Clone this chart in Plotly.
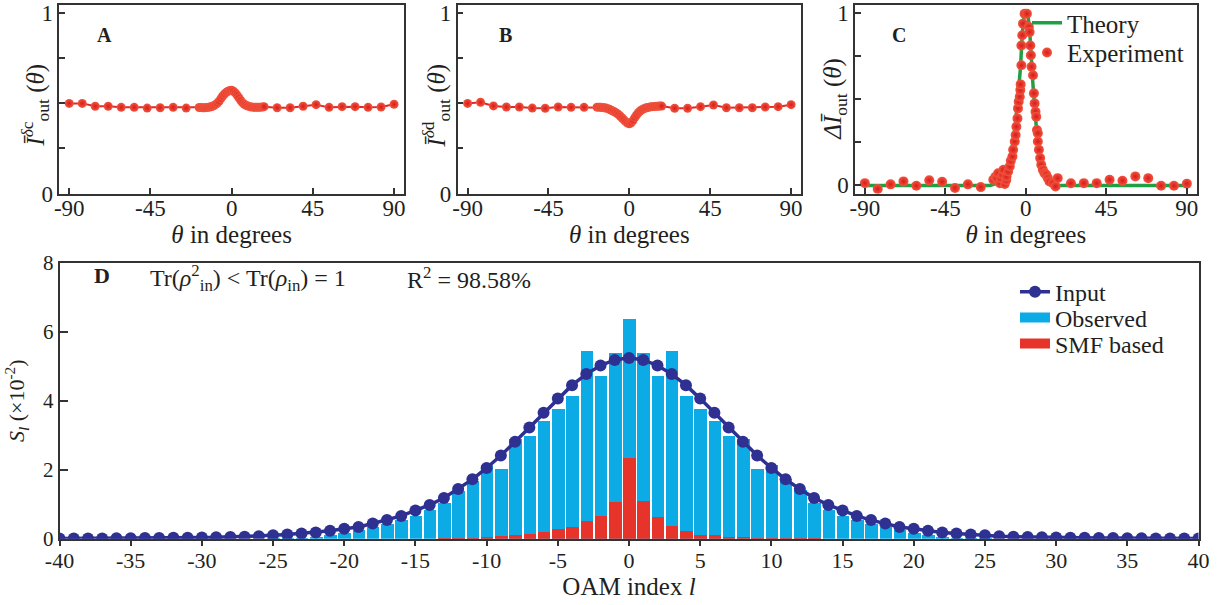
import plotly.graph_objects as go

# ---------------- Data ----------------
# Panel A / B: outer coarse points (7.2 deg grid) + dense central points
theta_outer_left = [-90, -82.8, -75.6, -68.4, -61.2, -54, -46.8, -39.6, -32.4, -25.2]
theta_dense = list(range(-18, 19))
theta_outer_right = [25.2, 32.4, 39.6, 46.8, 54, 61.2, 68.4, 75.6, 82.8, 90]

a_outer_left = [0.499, 0.499, 0.483, 0.483, 0.477, 0.477, 0.473, 0.475, 0.477, 0.473]
a_dense = [0.476, 0.476, 0.475, 0.475, 0.476, 0.477, 0.479, 0.482, 0.486, 0.492,
           0.500, 0.510, 0.525, 0.540, 0.551, 0.560, 0.566, 0.570, 0.572, 0.566,
           0.557, 0.545, 0.530, 0.516, 0.503, 0.494, 0.488, 0.484, 0.481, 0.479,
           0.478, 0.477, 0.477, 0.477, 0.478, 0.479, 0.481]
a_outer_right = [0.475, 0.475, 0.483, 0.492, 0.477, 0.481, 0.481, 0.477, 0.479, 0.494]

b_outer_left = [0.499, 0.505, 0.485, 0.479, 0.479, 0.473, 0.472, 0.479, 0.477, 0.477]
b_dense = [0.478, 0.478, 0.477, 0.476, 0.475, 0.473, 0.470, 0.466, 0.461, 0.456,
           0.451, 0.445, 0.437, 0.428, 0.418, 0.408, 0.398, 0.390, 0.386, 0.392,
           0.404, 0.420, 0.435, 0.447, 0.457, 0.464, 0.469, 0.473, 0.476, 0.478,
           0.480, 0.481, 0.482, 0.483, 0.483, 0.484, 0.484]
b_outer_right = [0.472, 0.472, 0.481, 0.490, 0.475, 0.475, 0.475, 0.479, 0.481, 0.492]

# Panel C: theory curve and experiment points
c_theory_x = [-90, -20, -14, -12, -10, -8, -6, -4.4, -3, -2, -1, 0, 1, 2, 2.8, 4, 5.4, 6.7, 8.6, 10, 12, 15, 20, 90]
c_theory_y = [0, 0, 0.02, 0.06, 0.12, 0.2, 0.34, 0.5, 0.68, 0.88, 0.98, 1.0, 0.99, 0.92, 0.77, 0.58, 0.39, 0.25, 0.1, 0.05, 0.02, 0.0, 0, 0]

c_exp_x = [-90, -82.8, -75.6, -68.4, -61.2, -54, -46.8, -39.6, -32.4, -25.2,
           -18.2, -17, -16.4, -15.5, -14.5, -14, -13.1, -12.5, -11.8, -11, -10.8, -9.9, -9.0, -8.4, -7.5, -7.1,
           -6.2, -5.7, -5.3, -4.7, -4.4, -4.0, -3.4, -3.1, -2.9, -2.5, -2.5, -2.0, -1.6, -0.7,
           0.6, 1.7, 2.1, 2.5, 2.8, 3.2, 4.0, 4.5, 4.9, 5.4, 5.8, 6.2, 6.7, 6.7, 7.3, 8.0, 8.6,
           9.5, 10.4, 11.4, 12.3, 13.2, 15.1, 16.6, 17.8,
           25.2, 32.4, 39.6, 46.8, 54, 61.2, 68.4, 75.6, 82.8, 90]
c_exp_y = [0.013, -0.021, 0.006, 0.023, -0.002, 0.029, 0.021, -0.015, 0.006, -0.010,
           0.033, 0.05, 0.042, 0.07, 0.013, 0.04, 0.062, 0.09, 0.008, 0.03, 0.052, 0.081, 0.11, 0.142, 0.167, 0.206,
           0.254, 0.292, 0.34, 0.388, 0.446, 0.485, 0.513, 0.552, 0.585, 0.696, 0.81, 0.87, 0.937, 0.994,
           0.994, 0.917, 0.888, 0.81, 0.754, 0.687, 0.638, 0.533, 0.475, 0.427, 0.398, 0.321, 0.302, 0.254, 0.206, 0.158, 0.119,
           0.09, 0.071, 0.062, 0.042, 0.023, 0.013, -0.006, 0.042,
           0.012, 0.013, 0.013, 0.033, 0.027, 0.052, 0.042, -0.002, -0.002, 0.010]

# Panel D: OAM spectrum (l = -40 .. 40)
oam_l = list(range(-40, 41))
input_left = [0.01, 0.01, 0.01, 0.01, 0.015, 0.015, 0.02, 0.02, 0.025, 0.03,
              0.035, 0.04, 0.05, 0.06, 0.07, 0.10, 0.12, 0.15, 0.18, 0.23,
              0.29, 0.34, 0.44, 0.54, 0.66, 0.82, 0.98, 1.18, 1.44, 1.72,
              2.05, 2.41, 2.81, 3.22, 3.65, 4.06, 4.45, 4.77, 5.02, 5.18]
input_peak = [5.24]
input_vals = input_left + input_peak + input_left[::-1]

observed_vals = ([0.0] * 15 +
                 [0.01, 0.02, 0.04, 0.07, 0.12, 0.17, 0.25, 0.34, 0.45, 0.55,
                  0.68, 0.84, 1.04, 1.40, 1.68, 2.15, 2.04, 2.91, 2.99, 3.42,
                  3.77, 4.15, 5.45, 4.73, 5.39, 6.38, 5.39, 4.73, 5.45, 4.15,
                  3.77, 3.42, 2.99, 2.91, 2.04, 2.15, 1.75, 1.42, 1.04, 0.84,
                  0.68, 0.55, 0.44, 0.34, 0.25, 0.17, 0.12, 0.06, 0.04, 0.02, 0.01] +
                 [0.0] * 15)

smf_vals = ([0.0] * 27 +
            [0.01, 0.02, 0.02, 0.05, 0.08, 0.13, 0.16, 0.20, 0.28, 0.34,
             0.51, 0.68, 1.07, 2.36, 1.09, 0.63, 0.38, 0.23, 0.13, 0.11,
             0.05, 0.05, 0.03, 0.02, 0.02, 0.01, 0.01] +
            [0.0] * 27)

theta_ticks = [-90, -45, 0, 45, 90]
theta_ticktext = ["-90", "-45", "0", "45", "90"]
unit_ticks = [0, 0.25, 0.5, 0.75, 1]
unit_ticktext = ["0", "", "", "", "1"]
oam_ticks = list(range(-40, 41, 5))
oam_ticktext = ["-40", "-35", "-30", "-25", "-20", "-15", "-10", "-5", "0",
                "5", "10", "15", "20", "25", "30", "35", "40"]
s_ticks = [0, 2, 4, 6, 8]

# ---------------- Style ----------------
FONT = "Liberation Serif"
TXT = "#231f20"
AX = "#333333"
RED = "#f2563e"
RED_EDGE = "#d81a1c"
BLUE_BAR = "#0cabe6"
RED_BAR = "#e6342b"

W, H = 1217, 605


def xdom(a, b):
    return [a / W, b / W]


def ydom(top, bottom):
    return [1 - bottom / H, 1 - top / H]


fig = go.Figure()

theta_all = theta_outer_left + theta_dense + theta_outer_right
a_all = a_outer_left + a_dense + a_outer_right
b_all = b_outer_left + b_dense + b_outer_right

red_marker = dict(size=9, color=RED, gradient=dict(type="radial", color=RED_EDGE), line=dict(width=0))

fig.add_trace(go.Scatter(x=theta_all, y=a_all, mode="lines+markers", xaxis="x", yaxis="y",
                         line=dict(color="#e02a2a", width=2), marker=red_marker, showlegend=False))
fig.add_trace(go.Scatter(x=theta_all, y=b_all, mode="lines+markers", xaxis="x2", yaxis="y2",
                         line=dict(color="#e02a2a", width=2), marker=red_marker, showlegend=False))

fig.add_trace(go.Scatter(x=c_theory_x, y=c_theory_y, mode="lines", xaxis="x3", yaxis="y3",
                         line=dict(color="#1fa045", width=3.5), name="Theory", legend="legend"))
fig.add_trace(go.Scatter(x=c_exp_x, y=c_exp_y, mode="markers", xaxis="x3", yaxis="y3",
                         marker=dict(size=10, color=RED, gradient=dict(type="radial", color=RED_EDGE), line=dict(width=0)),
                         name="Experiment", legend="legend3"))

fig.add_trace(go.Bar(x=oam_l, y=observed_vals, xaxis="x4", yaxis="y4", width=0.88,
                     marker=dict(color=BLUE_BAR, line=dict(width=0)), name="Observed", showlegend=False))
fig.add_trace(go.Bar(x=oam_l, y=smf_vals, xaxis="x4", yaxis="y4", width=0.88,
                     marker=dict(color=RED_BAR, line=dict(width=0)), name="SMF based", showlegend=False))
fig.add_trace(go.Scatter(x=oam_l, y=input_vals, mode="lines+markers", xaxis="x4", yaxis="y4",
                         line=dict(color="#2e3192", width=3.5), marker=dict(size=12, color="#2e3192"),
                         name="Input", legend="legend2"))
# legend swatches (wide rectangles) for the bar series
fig.add_trace(go.Scatter(x=[None], y=[None], mode="lines", xaxis="x4", yaxis="y4",
                         line=dict(color=BLUE_BAR, width=14), name="Observed", legend="legend4"))
fig.add_trace(go.Scatter(x=[None], y=[None], mode="lines", xaxis="x4", yaxis="y4",
                         line=dict(color=RED_BAR, width=14), name="SMF based", legend="legend5"))

base_axis = dict(showline=True, mirror=True, linecolor=AX, linewidth=1.5, showgrid=False, zeroline=False,
                 tickcolor=AX, ticks="inside", ticklen=6, tickwidth=1.5, automargin=False,
                 ticklabeloverflow="allow",
                 tickfont=dict(family=FONT, size=23, color=TXT))

theta_title = dict(text="<i>θ</i> in degrees", font=dict(family=FONT, size=25, color=TXT), standoff=0)


def leg(x, y, size):
    return dict(x=x / W, y=1 - y / H, xanchor="left", yanchor="middle", bgcolor="rgba(0,0,0,0)",
                font=dict(family=FONT, size=size, color=TXT), tracegroupgap=0, itemwidth=30)


fig.update_layout(
    template="none",
    width=W, height=H, margin=dict(l=0, r=0, t=0, b=0, pad=0),
    paper_bgcolor="white", plot_bgcolor="white",
    barmode="overlay", bargap=0,
    font=dict(family=FONT, color=TXT),
    xaxis=dict(base_axis, domain=xdom(59.3, 404), range=[-95.5, 95.5], tickvals=theta_ticks,
               ticktext=theta_ticktext, anchor="y", title=theta_title, ticklabelstandoff=-7),
    yaxis=dict(base_axis, domain=ydom(3, 192.3), range=[0, 1.05 * 189.3 / 190.6], tickvals=unit_ticks,
               ticktext=unit_ticktext, anchor="x"),
    xaxis2=dict(base_axis, domain=xdom(457.7, 801), range=[-95.5, 95.5], tickvals=theta_ticks,
                ticktext=theta_ticktext, anchor="y2", title=theta_title, ticklabelstandoff=-7),
    yaxis2=dict(base_axis, domain=ydom(3, 192.3), range=[0, 1.05 * 189.3 / 190.6], tickvals=unit_ticks,
                ticktext=unit_ticktext, anchor="x2"),
    xaxis3=dict(base_axis, domain=xdom(855, 1196.7), range=[-95.5, 95.5], tickvals=theta_ticks,
                ticktext=theta_ticktext, anchor="y3", title=theta_title, ticklabelstandoff=-7),
    yaxis3=dict(base_axis, domain=ydom(3, 192.3), range=[-0.048, 1.045], tickvals=unit_ticks,
                ticktext=unit_ticktext, anchor="x3"),
    xaxis4=dict(base_axis, domain=xdom(59.5, 1198.5), range=[-40, 40], tickvals=oam_ticks,
                ticktext=oam_ticktext, ticks="outside", anchor="y4", ticklabelstandoff=-5,
                tickfont=dict(family=FONT, size=22, color=TXT),
                title=dict(text="OAM index <i>l</i>", font=dict(family=FONT, size=25, color=TXT), standoff=0)),
    yaxis4=dict(base_axis, domain=ydom(261.5, 538.5), range=[0, 8], tickvals=s_ticks, anchor="x4",
                tickfont=dict(family=FONT, size=21, color=TXT), ticklen=9,
                title=dict(text="<i>S<sub>l</sub></i> (×10<sup>-2</sup>)",
                           font=dict(family=FONT, size=22, color=TXT), standoff=12)),
    legend=leg(1027, 21, 25),
    legend3=leg(1027, 51, 25),
    legend2=leg(1015, 291, 24),
    legend4=leg(1015, 317, 24),
    legend5=leg(1015, 343, 24),
)

ann_font = dict(family=FONT, size=20, color=TXT)
annotations = [
    dict(text="<b>A</b>", x=104 / W, y=1 - 33 / H),
    dict(text="<b>B</b>", x=505 / W, y=1 - 33 / H),
    dict(text="<b>C</b>", x=899 / W, y=1 - 33 / H),
    dict(text="<b>D</b>", x=102 / W, y=1 - 274 / H, size=22),
    dict(text="Tr(<i>ρ</i><sup>2</sup><sub>in</sub>) &lt; Tr(<i>ρ</i><sub>in</sub>) = 1", x=248 / W, y=1 - 277 / H, size=24),
    dict(text="R<sup>2</sup> = 98.58%", x=469 / W, y=1 - 277 / H, size=24),
    dict(text="<i>Ī</i><sup><i>δ</i>c</sup><sub>out</sub> (<i>θ</i>)", x=35 / W, y=1 - 104 / H, size=25, textangle=-90),
    dict(text="<i>Ī</i><sup><i>δ</i>d</sup><sub>out</sub> (<i>θ</i>)", x=436 / W, y=1 - 104 / H, size=25, textangle=-90),
    dict(text="<i>ΔĪ</i><sub>out</sub> (<i>θ</i>)", x=835 / W, y=1 - 97 / H, size=25, textangle=-90),
]
for a in annotations:
    size = a.pop("size", 20)
    fig.add_annotation(xref="paper", yref="paper", showarrow=False, xanchor="center", yanchor="middle",
                       font=dict(ann_font, size=size), **a)

fig.write_html("out.html")
